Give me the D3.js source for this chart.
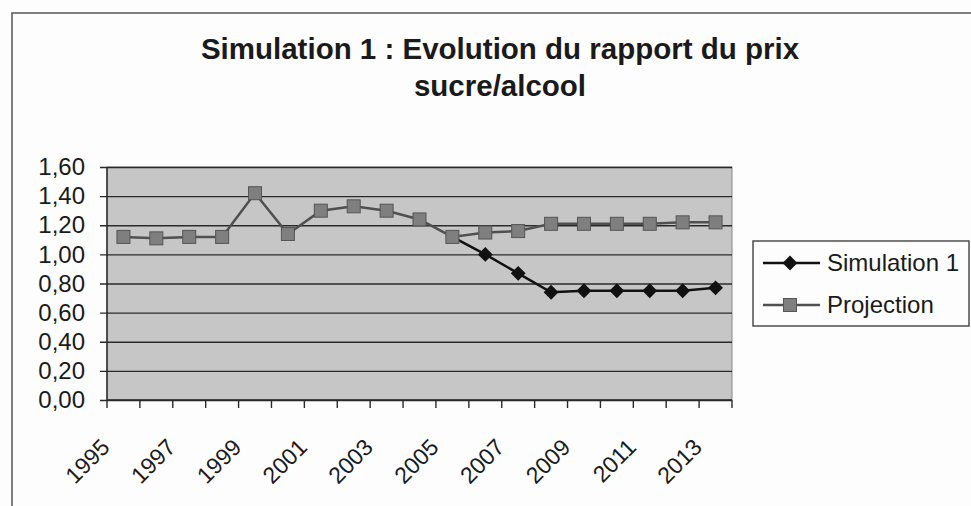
<!DOCTYPE html>
<html>
<head>
<meta charset="utf-8">
<script src="https://cdn.jsdelivr.net/npm/d3@7"></script>
<style>
  body { margin: 0; background: #fdfdfd; }
  text { font-family: "Liberation Sans", Arial, sans-serif; fill: #1a1a1a; }
</style>
</head>
<body>
<div class="chart"></div>
<script>
const years = d3.range(1995, 2014);
const yearLabels = [1995, 1997, 1999, 2001, 2003, 2005, 2007, 2009, 2011, 2013];
const projection = [1.12, 1.11, 1.12, 1.12, 1.42, 1.14, 1.30, 1.33, 1.30, 1.24,
                    1.12, 1.15, 1.16, 1.21, 1.21, 1.21, 1.21, 1.22, 1.22];
const simulation = [null, null, null, null, null, null, null, null, null, null,
                    1.12, 1.00, 0.87, 0.74, 0.75, 0.75, 0.75, 0.75, 0.77];
const yTicks = [0, 0.2, 0.4, 0.6, 0.8, 1.0, 1.2, 1.4, 1.6];
const titleLines = ["Simulation 1 : Evolution du rapport du prix", "sucre/alcool"];

const width = 971, height = 506;
const plot = { left: 107, right: 732, top: 167, bottom: 400 };

const svg = d3.select(".chart").append("svg")
    .attr("width", width)
    .attr("height", height);

// chart frame
svg.append("path")
    .attr("d", "M12," + height + "V13H" + width)
    .attr("fill", "none")
    .attr("stroke", "#555")
    .attr("stroke-width", 1.5);

// title
svg.selectAll(".title")
    .data(titleLines)
    .enter().append("text")
    .attr("class", "title")
    .attr("x", 500)
    .attr("y", function (d, i) { return 59 + i * 37; })
    .attr("text-anchor", "middle")
    .style("font-size", "29.5px")
    .style("font-weight", "bold")
    .text(function (d) { return d; });

const x = d3.scaleBand()
    .domain(years)
    .range([plot.left, plot.right])
    .padding(0);
const cx = function (i) { return x(years[i]) + x.bandwidth() / 2; };

const y = d3.scaleLinear()
    .domain([0, 1.6])
    .range([plot.bottom, plot.top]);

// plot background
svg.append("rect")
    .attr("x", plot.left)
    .attr("y", plot.top)
    .attr("width", plot.right - plot.left)
    .attr("height", plot.bottom - plot.top)
    .attr("fill", "#c6c6c6")
    .attr("stroke", "#888")
    .attr("stroke-width", 1);

// gridlines + y ticks
const yAxis = d3.axisLeft(y)
    .tickValues(yTicks)
    .tickSize(plot.right - plot.left + 7)
    .tickPadding(15)
    .tickFormat(function (d) { return d3.format(".2f")(d).replace(".", ","); });

const gy = svg.append("g")
    .attr("transform", "translate(" + plot.right + ",0)")
    .call(yAxis);
gy.select(".domain").remove();
gy.selectAll("line").attr("stroke", "#2a2a2a").attr("stroke-width", 1.4);
gy.selectAll("text")
    .style("font-size", "24px")
    .style("font-family", "'Liberation Sans', Arial, sans-serif")
    .attr("fill", "#1a1a1a");

// axis lines
svg.append("line")
    .attr("x1", plot.left).attr("x2", plot.left)
    .attr("y1", plot.top).attr("y2", plot.bottom)
    .attr("stroke", "#2a2a2a").attr("stroke-width", 1.5);
svg.append("line")
    .attr("x1", plot.left).attr("x2", plot.right)
    .attr("y1", plot.bottom).attr("y2", plot.bottom)
    .attr("stroke", "#2a2a2a").attr("stroke-width", 1.5);

// x ticks at category boundaries
svg.selectAll(".xtick")
    .data(years.concat([null]))
    .enter().append("line")
    .attr("class", "xtick")
    .attr("x1", function (d) { return d === null ? plot.right : x(d); })
    .attr("x2", function (d) { return d === null ? plot.right : x(d); })
    .attr("y1", plot.bottom)
    .attr("y2", plot.bottom + 8)
    .attr("stroke", "#2a2a2a")
    .attr("stroke-width", 1.4);

// x labels
svg.selectAll(".xlabel")
    .data(yearLabels)
    .enter().append("text")
    .attr("class", "xlabel")
    .attr("transform", function (d) {
        return "translate(" + (x(d) + x.bandwidth() / 2 - 18) + "," + (plot.bottom + 43) + ") rotate(-45)";
    })
    .attr("text-anchor", "end")
    .attr("dy", ".35em")
    .style("font-size", "23px")
    .text(function (d) { return d; });

const line = d3.line()
    .defined(function (d) { return d !== null; })
    .x(function (d, i) { return cx(i); })
    .y(function (d) { return y(d); });

// Simulation 1 (drawn first, under projection)
svg.append("path")
    .datum(simulation)
    .attr("d", line)
    .attr("fill", "none")
    .attr("stroke", "#111")
    .attr("stroke-width", 2.5);

const diamond = d3.symbol().type(d3.symbolSquare).size(110);
svg.selectAll(".dia")
    .data(simulation.map(function (v, i) { return { v: v, i: i }; }).filter(function (d) { return d.v !== null && d.i > 10; }))
    .enter().append("path")
    .attr("class", "dia")
    .attr("d", diamond)
    .attr("transform", function (d) { return "translate(" + cx(d.i) + "," + y(d.v) + ") rotate(45)"; })
    .attr("fill", "#111");

// Projection
svg.append("path")
    .datum(projection)
    .attr("d", line)
    .attr("fill", "none")
    .attr("stroke", "#505050")
    .attr("stroke-width", 2.5);

svg.selectAll(".sq")
    .data(projection)
    .enter().append("rect")
    .attr("class", "sq")
    .attr("x", function (d, i) { return cx(i) - 6.5; })
    .attr("y", function (d) { return y(d) - 6.5; })
    .attr("width", 13)
    .attr("height", 13)
    .attr("fill", "#7f7f7f")
    .attr("stroke", "#555")
    .attr("stroke-width", 1);

// legend
const legend = svg.append("g");
legend.append("rect")
    .attr("x", 753).attr("y", 241)
    .attr("width", 216).attr("height", 85)
    .attr("fill", "#fdfdfd")
    .attr("stroke", "#333")
    .attr("stroke-width", 1.3);

const legendItems = [
    { name: "Simulation 1", color: "#111", mark: "diamond" },
    { name: "Projection", color: "#505050", mark: "square" }
];
const li = legend.selectAll(".li")
    .data(legendItems)
    .enter().append("g")
    .attr("transform", function (d, i) { return "translate(0," + (263 + i * 42) + ")"; });

li.append("line")
    .attr("x1", 763).attr("x2", 820)
    .attr("stroke", function (d) { return d.color; })
    .attr("stroke-width", 2.5);
li.filter(function (d) { return d.mark === "diamond"; })
    .append("path")
    .attr("d", diamond)
    .attr("transform", "translate(790,0) rotate(45)")
    .attr("fill", "#111");
li.filter(function (d) { return d.mark === "square"; })
    .append("rect")
    .attr("x", 783.5).attr("y", -6.5)
    .attr("width", 13).attr("height", 13)
    .attr("fill", "#7f7f7f")
    .attr("stroke", "#555");
li.append("text")
    .attr("x", 827)
    .attr("dy", ".35em")
    .style("font-size", "24px")
    .text(function (d) { return d.name; });
</script>
</body>
</html>
